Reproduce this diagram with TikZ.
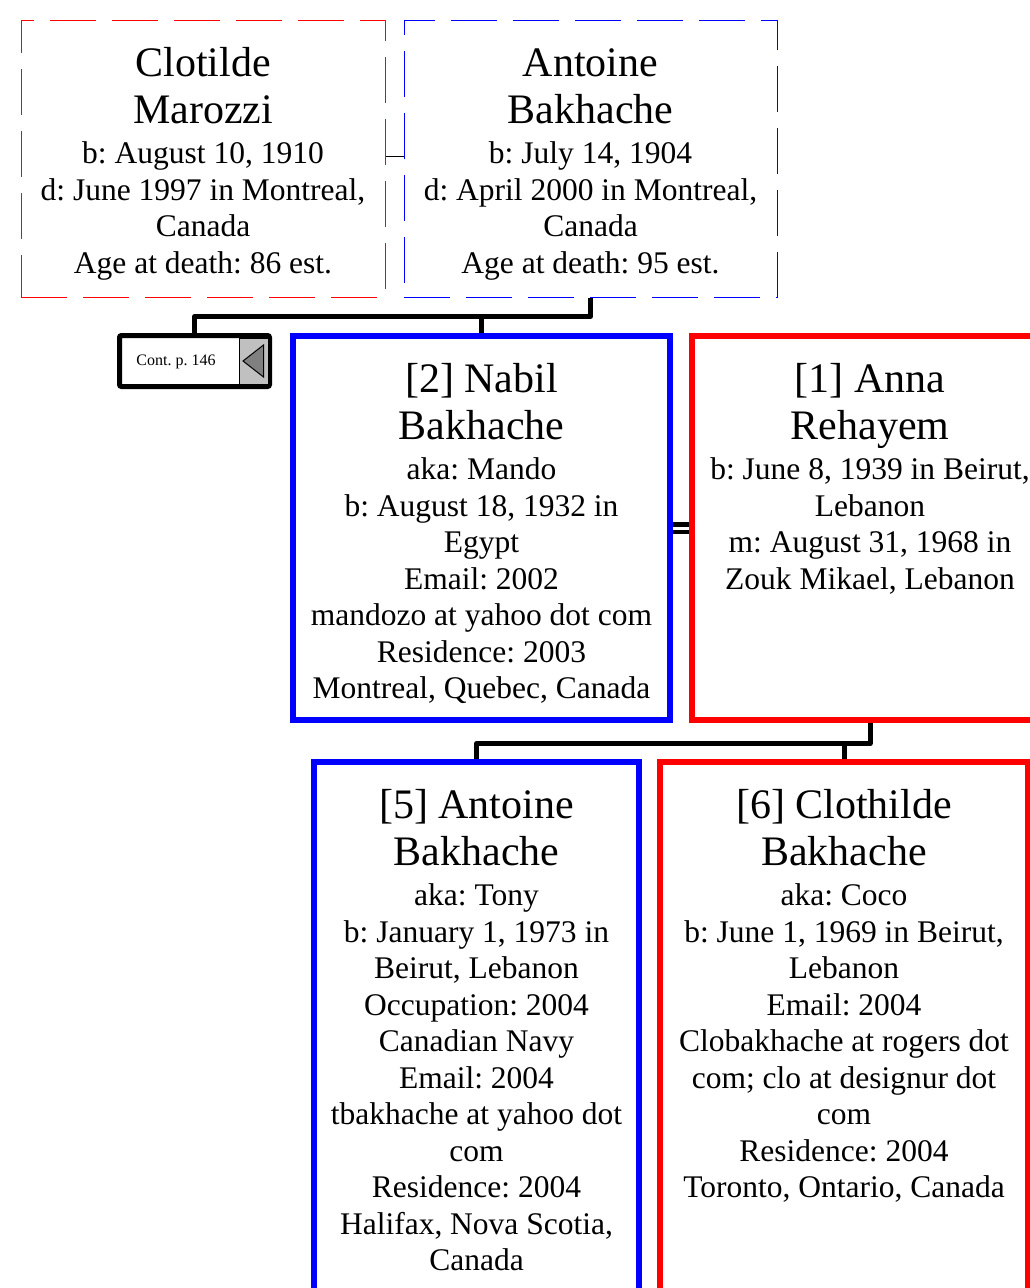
\documentclass[tikz,border=0pt]{standalone}
\usepackage{fontspec}
\setmainfont{Liberation Serif}
\usetikzlibrary{positioning,calc}
\definecolor{malecol}{HTML}{0000FF}
\definecolor{femalecol}{HTML}{FF0000}
\definecolor{flaggray}{HTML}{C0C0C0}
\definecolor{arrowgray}{HTML}{808080}
\frenchspacing

\newcommand{\namefont}{\fontsize{42}{47}\selectfont}
\newcommand{\infofont}{\fontsize{31.5}{36.5}\selectfont}
% box height, box width, name lines, detail lines
\newcommand{\card}[4]{\parbox[c][#1][t]{#2}{\centering\vspace*{27pt}{\namefont #3\par}\vspace{4pt}{\infofont #4\par}}}

\begin{document}
\begin{tikzpicture}[x=1pt, y=-1pt,
  person/.style={rectangle, inner sep=0pt, line width=5.5pt},
  elder/.style={rectangle, inner sep=0pt, line width=1pt, dash pattern=on 46pt off 16pt},
  descent/.style={draw=black, line width=5pt, line join=round},
  wedding/.style={double, double distance=3pt, line width=4.5pt},
  thinwedding/.style={double, double distance=4pt, line width=0.8pt},
  contbox/.style={draw, line width=5pt, rounded corners=2pt, fill=white, minimum width=150pt, minimum height=51pt}]
\useasboundingbox (0,0) rectangle (1030,1288);

% grandparents
\node[elder, draw=femalecol] (clotilde) at (203,158.5) {\card{277pt}{364pt}{Clotilde\\Marozzi}{b: August 10, 1910\\d: June 1997 in Montreal,\\Canada\\Age at death: 86 est.}};
\node[elder, draw=malecol] (antoineSr) at (590.5,158.5) {\card{277pt}{373pt}{\vphantom{l}Antoine\\Bakhache}{b: July 14, 1904\\d: April 2000 in Montreal,\\Canada\\Age at death: 95 est.}};
\draw[thinwedding] (clotilde.east) -- (antoineSr.west);

% parents
\node[contbox] (cont) at (194.5,361) {};
\node[draw, line width=1pt, fill=flaggray, minimum width=29pt, minimum height=46pt, inner sep=0pt, anchor=east] (contflag) at ($(cont.east)+(-3.5,0)$) {};
\draw[fill=arrowgray, line width=1pt] ($(contflag.center)+(-10.5,0)$) -- ($(contflag.center)+(10,-16)$) -- ($(contflag.center)+(10,16)$) -- cycle;
\node[font=\fontsize{16}{18}\selectfont] (contlabel) at (176,362) {Cont. p. 146};

\node[person, draw=malecol] (nabil) at (481.5,528) {\card{384pt}{377pt}{[2] Nabil\\Bakhache}{aka: Mando\\b: August 18, 1932 in\\Egypt\\Email: 2002\\mandozo at yahoo dot com\\Residence: 2003\\Montreal, Quebec, Canada}};
\node[person, draw=femalecol] (anna) at (870,528) {\card{384pt}{356pt}{[1] Anna\\Rehayem}{b: June 8, 1939 in Beirut,\\Lebanon\\m: August 31, 1968 in\\Zouk Mikael, Lebanon}};
\draw[wedding] (nabil.east) -- (anna.west);

\draw[descent] (antoineSr.south) -- ++(0,19) coordinate (sibs) -| (cont.north);
\draw[descent] (sibs -| nabil.north) -- (nabil.north);

% children
\node[person, draw=malecol] (tony) at (476.5,1062) {\card{600pt}{325pt}{[5] Antoine\\Bakhache}{aka: Tony\\b: January 1, 1973 in\\Beirut, Lebanon\\Occupation: 2004\\Canadian Navy\\Email: 2004\\tbakhache at yahoo dot\\com\\Residence: 2004\\Halifax, Nova Scotia,\\Canada}};
\node[person, draw=femalecol] (coco) at (844,1062) {\card{600pt}{368pt}{[6] Clothilde\\Bakhache}{aka: Coco\\b: June 1, 1969 in Beirut,\\Lebanon\\Email: 2004\\Clobakhache at rogers dot\\com; clo at designur dot\\com\\Residence: 2004\\Toronto, Ontario, Canada}};

\draw[descent] (anna.south) -- ++(0,21) coordinate (kids) -| (tony.north);
\draw[descent] (kids -| coco.north) -- (coco.north);
\end{tikzpicture}
\end{document}
